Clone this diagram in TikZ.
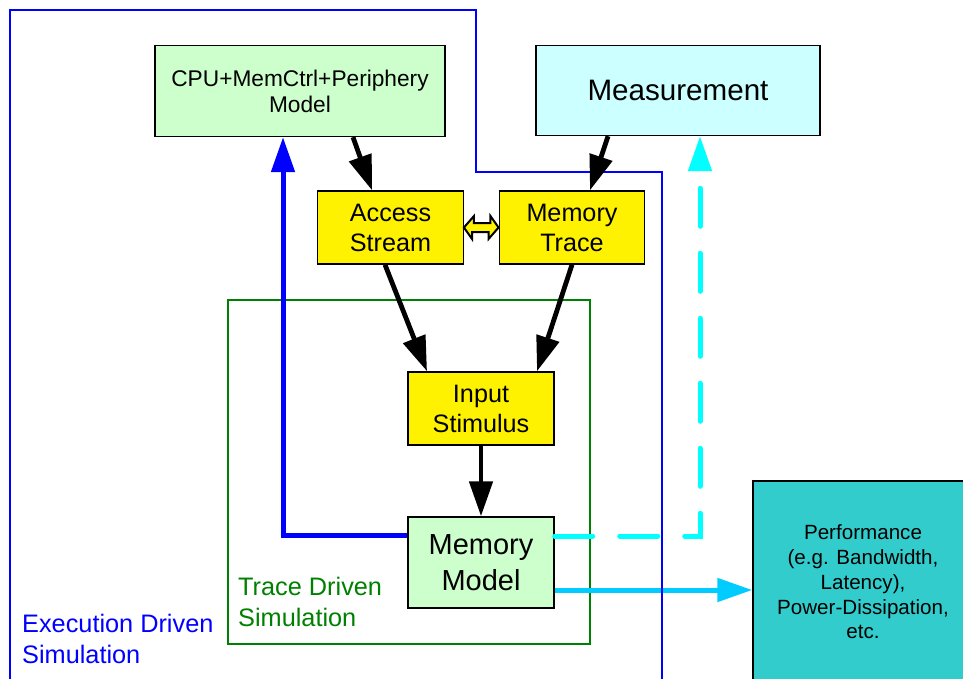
\documentclass[tikz,border=0pt]{standalone}
\usepackage{fontspec}
\setmainfont{Liberation Sans}
\usetikzlibrary{arrows.meta}
\definecolor{cpufill}{HTML}{CCFFCC}
\definecolor{measfill}{HTML}{CCFFFF}
\definecolor{perffill}{HTML}{33CCCC}
\definecolor{flowcyan}{HTML}{00CCFF}
\definecolor{dashcyan}{HTML}{00FFFF}
\definecolor{tracegreen}{HTML}{008000}
\definecolor{execblue}{HTML}{0000FF}

\begin{document}
\begin{tikzpicture}[x=1pt,y=-1pt,
  every node/.style={inner sep=0pt},
  box/.style={draw=black,line width=1.4pt,align=center},
  yellowbox/.style={box,fill=yellow,minimum width=145.5pt,minimum height=73pt,
    font=\fontsize{25.2}{30}\selectfont},
  headtip/.style={-{Triangle[length=35pt,width=23pt]}},
  blackflow/.style={headtip,line width=4.8pt,draw=black},
  blueflow/.style={headtip,line width=5pt,draw=execblue,line join=miter},
  cyanflow/.style={headtip,line width=5pt,draw=flowcyan},
  cyandash/.style={headtip,line width=5pt,draw=dashcyan,line cap=round,
    dash pattern=on 38pt off 27pt},
  swap/.style={draw=black,line width=2pt,fill=yellow,line join=miter},
  regionlabel/.style={anchor=west,align=left,font=\fontsize{25.3}{31}\selectfont}
]
\useasboundingbox (0,0) rectangle (963,679);
\clip (0,0) rectangle (963,679);

% trace-driven region
\draw[tracegreen,line width=1.3pt] (228,300) rectangle (590,644);
\node[regionlabel,text=tracegreen] (tracelbl) at (238,602) {Trace Driven\\Simulation};

% model blocks
\node[box,fill=cpufill,minimum width=290pt,minimum height=91pt,
  font=\fontsize{22.7}{26}\selectfont] (cpu) at (300,91) {CPU+MemCtrl+Periphery\\Model};
\node[box,fill=measfill,minimum width=284pt,minimum height=90pt,
  font=\fontsize{29.6}{34}\selectfont] (meas) at (678,90.5) {Measurement};
\node[yellowbox] (acc) at (390.5,227.5) {Access\\Stream};
\node[yellowbox] (trc) at (572,227.5) {Memory\\Trace};
\node[yellowbox,minimum width=146pt] (inp) at (481,408.5) {Input\\Stimulus};
\node[box,fill=cpufill,minimum width=146pt,minimum height=91pt,
  font=\fontsize{29}{36.5}\selectfont] (mem) at (481,562.5) {Memory\\Model};
\node[box,fill=perffill,minimum width=220pt,minimum height=202pt,
  font=\fontsize{20.6}{24.7}\selectfont] (perf) at (863,582)
  {Performance\\(e.g. Bandwidth,\\Latency),\\Power-Dissipation,\\etc.};

% feedback paths
\draw[cyandash] ([yshift=26.5pt]mem.east) -| ([xshift=22pt]meas.south);
\draw[cyanflow] ([yshift=-27.5pt]mem.east) coordinate (perfsrc) -- (perfsrc -| perf.west);
\draw[blueflow] ([yshift=27.5pt]mem.west) -| ([xshift=-17pt]cpu.south);

% execution-driven region
\draw[execblue,line width=1.3pt] (10,690) -- (10,10) -- (476,10) -- (476,172)
  -- (662,172) -- (662,690);
\node[regionlabel,text=execblue] (execlbl) at (22,638.5) {Execution Driven\\Simulation};

% trace flow
\draw[blackflow] ([xshift=53pt]cpu.south) -- ([xshift=-18.5pt]acc.north);
\draw[blackflow] ([xshift=-70pt]meas.south) -- ([xshift=18pt]trc.north);
\draw[blackflow] ([xshift=-5.5pt]acc.south) -- ([xshift=-54pt]inp.north);
\draw[blackflow] (trc.south) -- ([xshift=56pt]inp.north);
\draw[blackflow] (inp.south) -- (mem.north);

% equivalence of access stream and memory trace
\draw[swap] (acc.east) -- ++(10,-11.5) -- ++(0,7) -- ++(16.5,0) -- ++(0,-7)
  -- (trc.west) -- ++(-10,11.5) -- ++(0,-7) -- ++(-16.5,0) -- ++(0,7) -- cycle;
\end{tikzpicture}
\end{document}
